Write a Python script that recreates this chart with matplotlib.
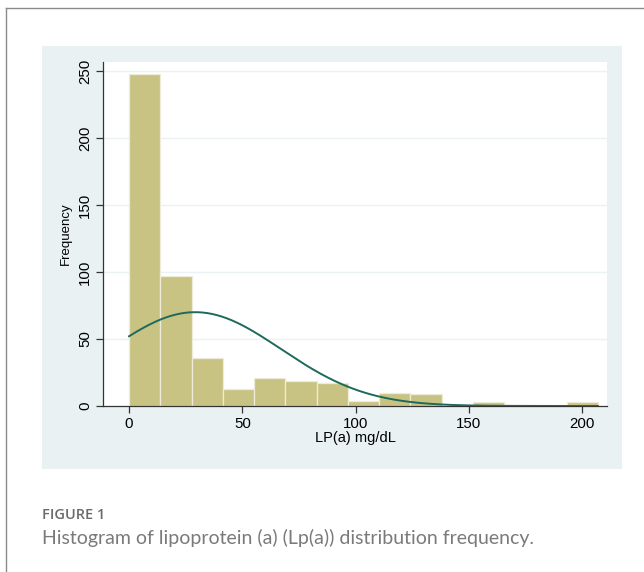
import numpy as np
import matplotlib
matplotlib.use("Agg")
from matplotlib import pyplot as plt
from matplotlib.patches import Rectangle
from matplotlib.lines import Line2D

# histogram of Lp(a), 15 bins from 0 to 207
bin_start = 0.0
bin_width = 13.8
counts = [248, 97, 36, 13, 21, 19, 17, 4, 10, 9, 0, 3, 1, 1, 3]

# normal density overlay parameters
lpa_mean = 29.2
lpa_sd = 37.9

x_ticks = [0, 50, 100, 150, 200]
y_ticks = [0, 50, 100, 150, 200, 250]

W, H = 644, 572
fig = plt.figure(figsize=(W / 100, H / 100), dpi=100)
fig.patch.set_facecolor("white")

def fx(px):
    return px / W

def fy(py):
    return 1 - py / H

# outer frame (top and left)
fig.add_artist(Line2D([fx(6), 1], [fy(8), fy(8)], color="#8a8a8a", lw=1.0))
fig.add_artist(Line2D([fx(6), fx(6)], [fy(8), 0], color="#8a8a8a", lw=1.0))

# light blue graph region
fig.add_artist(Rectangle((fx(42), fy(469)), fx(622) - fx(42), fy(46) - fy(469),
                         facecolor="#e9f1f3", edgecolor="none", zorder=0))

ax = fig.add_axes([fx(103), fy(406), fx(607) - fx(103), fy(62) - fy(406)])
ax.set_facecolor("white")

edges = bin_start + bin_width * np.arange(len(counts))
ax.bar(edges, counts, width=bin_width, align="edge", color="#c9c383",
       edgecolor="#eeecd8", linewidth=0.9, zorder=2)

xs = np.linspace(0, bin_start + bin_width * len(counts), 300)
scale = sum(counts) * bin_width
ys = scale / (lpa_sd * np.sqrt(2 * np.pi)) * np.exp(-0.5 * ((xs - lpa_mean) / lpa_sd) ** 2)
ax.plot(xs, ys, color="#1d6a5c", lw=1.4, zorder=3)

ax.set_xlim(-11.5, 211)
ax.set_ylim(0, 256.7)

for v in y_ticks[1:]:
    ax.axhline(v, color="#eaf2f3", lw=1.0, zorder=1)

for s in ["top", "right"]:
    ax.spines[s].set_visible(False)
for s in ["left", "bottom"]:
    ax.spines[s].set_color("#333333")
    ax.spines[s].set_linewidth(0.9)

ax.set_xticks(x_ticks)
ax.set_yticks(y_ticks)
ax.set_yticklabels([str(v) for v in y_ticks], rotation=90, va="center")
ax.tick_params(axis="both", labelsize=10.8, length=5, width=0.9, color="#333333",
               labelcolor="#000000")
ax.tick_params(axis="x", pad=3)
ax.tick_params(axis="y", pad=3)
for lab in ax.get_xticklabels() + ax.get_yticklabels():
    lab.set_family("Liberation Sans")

ax.set_xlabel("LP(a) mg/dL", fontsize=10.5, family="Liberation Sans", color="#000000", labelpad=0)
ax.set_ylabel("Frequency", fontsize=9.5, family="Liberation Sans", color="#000000", labelpad=4)

# caption
fig.text(fx(42), fy(515), "FIGURE 1", fontsize=10.5, family="Open Sans", weight="semibold",
         color="#6b6b6b", va="center", ha="left")
fig.text(fx(42), fy(538), "Histogram of lipoprotein (a) (Lp(a)) distribution frequency.",
         fontsize=14, family="Lato", color="#7a7a7a", va="center", ha="left")

plt.savefig("out.png", dpi=100)
